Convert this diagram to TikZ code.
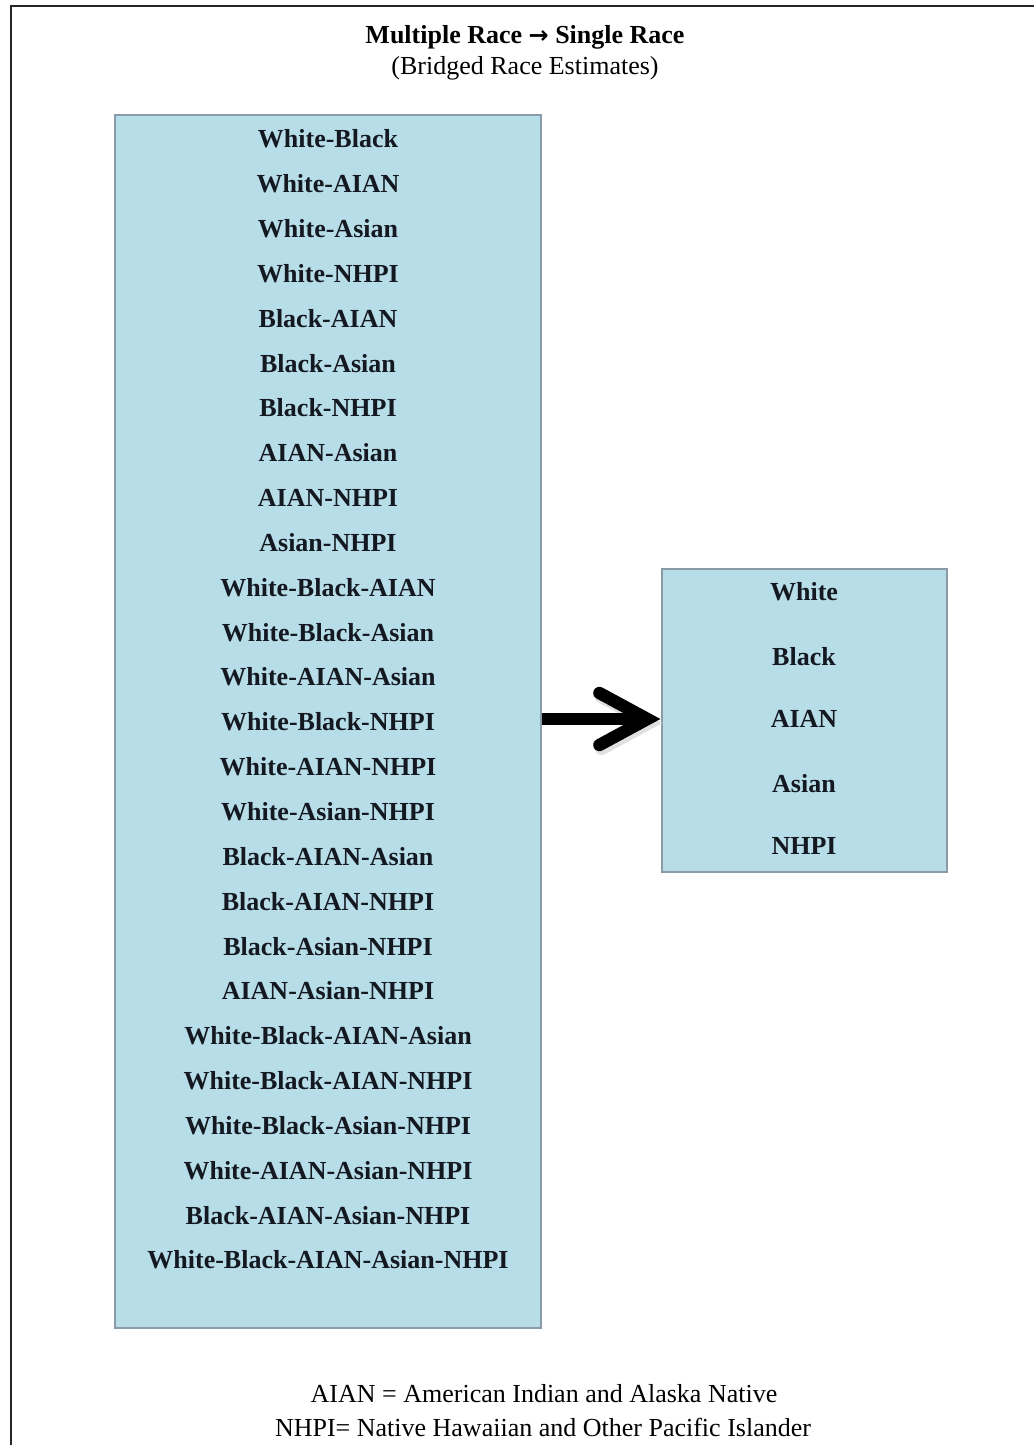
\documentclass[tikz,border=0pt]{standalone}
\usepackage{fontspec}
\setmainfont{Liberation Serif}
\newfontfamily\symfont{DejaVu Sans}
\usetikzlibrary{calc}
\definecolor{boxfill}{HTML}{B7DDE8}
\definecolor{boxline}{HTML}{8A9AA6}
\definecolor{inkc}{HTML}{141820}
\tikzset{
  racebox/.style={draw=boxline, line width=0.6pt, fill=boxfill, inner sep=0pt},
  item/.style={font=\fontsize{13}{15}\selectfont\bfseries, text=inkc, inner sep=0pt, anchor=center},
  heading/.style={font=\fontsize{13}{15}\selectfont\bfseries, inner sep=0pt},
  subhead/.style={font=\fontsize{13}{15}\selectfont, inner sep=0pt},
  note/.style={font=\fontsize{13}{15}\selectfont, inner sep=0pt},
  frame/.style={draw=black!85, line width=0.8pt},
  fatarrow/.style={draw=black, line width=6.2pt, line cap=round, line join=miter},
  fatshadow/.style={draw=black!12, line width=6.2pt, line cap=round, line join=miter}
}
\begin{document}
\begin{tikzpicture}[x=0.5pt, y=-0.5pt]
\useasboundingbox (0,0) rectangle (1034,1445);
\fill[white] (0,0) rectangle (1034,1445);
% outer frame (clipped on right and bottom)
\draw[frame] (11,1445) -- (11,6) -- (1034,6);
% title
\node[heading] (title) at (525,37) {Multiple Race {\symfont\fontsize{12}{14}\selectfont →} Single Race};
\node[subhead] (sub) at (525,68) {(Bridged Race Estimates)};
% left box
\node[racebox, minimum width=213pt, minimum height=606.5pt] (L) at (328,721.5) {};
\foreach \t [count=\i from 0] in {White-Black,White-AIAN,White-Asian,White-NHPI,Black-AIAN,Black-Asian,Black-NHPI,AIAN-Asian,AIAN-NHPI,Asian-NHPI,White-Black-AIAN,White-Black-Asian,White-AIAN-Asian,White-Black-NHPI,White-AIAN-NHPI,White-Asian-NHPI,Black-AIAN-Asian,Black-AIAN-NHPI,Black-Asian-NHPI,AIAN-Asian-NHPI,White-Black-AIAN-Asian,White-Black-AIAN-NHPI,White-Black-Asian-NHPI,White-AIAN-Asian-NHPI,Black-AIAN-Asian-NHPI,White-Black-AIAN-Asian-NHPI}
  \node[item] (m\i) at (328,{139+44.84*\i}) {\t};
% right box
\node[racebox, minimum width=142.5pt, minimum height=151.5pt] (R) at (804.5,720.5) {};
\node[item] (s1) at (804,592) {White};
\node[item] (s2) at (804,657) {Black};
\node[item] (s3) at (804,719) {AIAN};
\node[item] (s4) at (804,784) {Asian};
\node[item] (s5) at (804,846) {NHPI};
% arrow
\coordinate (tip) at ($(R.west)+(-14,-1.5)$);
\draw[fatshadow] ($(tip)+(-46,-22)$) -- ($(tip)+(2,4)$) -- ($(tip)+(-46,30)$);
\draw[fatarrow, line cap=butt] (L.east |- tip) -- (tip);
\draw[fatarrow] ($(tip)+(-48,-26)$) -- (tip) -- ($(tip)+(-48,26)$);
% footnote
\node[note] (n1) at (544,1394) {AIAN = American Indian and Alaska Native};
\node[note] (n2) at (543,1427) {NHPI= Native Hawaiian and Other Pacific Islander};
\end{tikzpicture}
\end{document}
